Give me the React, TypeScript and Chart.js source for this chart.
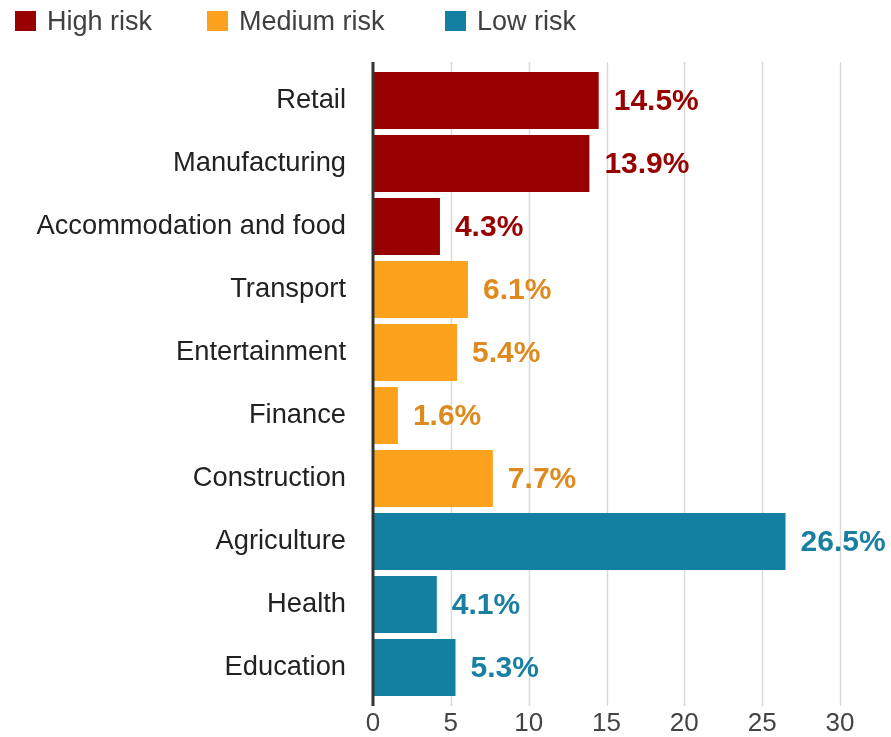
import React, { useEffect, useRef } from "react";
import { Chart, registerables } from "chart.js";

Chart.register(...registerables);

const categories = [
  "Retail",
  "Manufacturing",
  "Accommodation and food",
  "Transport",
  "Entertainment",
  "Finance",
  "Construction",
  "Agriculture",
  "Health",
  "Education",
];
const values = [14.5, 13.9, 4.3, 6.1, 5.4, 1.6, 7.7, 26.5, 4.1, 5.3];
const riskGroup = [
  "High risk",
  "High risk",
  "High risk",
  "Medium risk",
  "Medium risk",
  "Medium risk",
  "Medium risk",
  "Low risk",
  "Low risk",
  "Low risk",
];
const legendLabels = ["High risk", "Medium risk", "Low risk"];
const barColors: Record<string, string> = {
  "High risk": "#990000",
  "Medium risk": "#FDA21C",
  "Low risk": "#1380A1",
};
const labelColors: Record<string, string> = {
  "High risk": "#990000",
  "Medium risk": "#DE8A1E",
  "Low risk": "#1A80A2",
};
const xTicks = [0, 5, 10, 15, 20, 25, 30];

const FONT = "'Liberation Sans', Arial, Helvetica, sans-serif";

const gridPlugin = {
  id: "customGrid",
  beforeDatasetsDraw(chart: any) {
    const ctx = chart.ctx;
    const xs = chart.scales.x;
    const top = chart.chartArea.top - 7;
    const bottom = chart.chartArea.bottom + 7;
    ctx.save();
    ctx.strokeStyle = "#d9d9d9";
    ctx.lineWidth = 1.5;
    xTicks.forEach((v) => {
      if (v === 0) return;
      const x = Math.round(xs.getPixelForValue(v)) + 0.5;
      ctx.beginPath();
      ctx.moveTo(x, top);
      ctx.lineTo(x, bottom);
      ctx.stroke();
    });
    ctx.restore();
  },
  afterDatasetsDraw(chart: any) {
    const ctx = chart.ctx;
    const xs = chart.scales.x;
    const top = chart.chartArea.top - 7;
    const bottom = chart.chartArea.bottom + 7;
    ctx.save();
    ctx.strokeStyle = "#333333";
    ctx.lineWidth = 3;
    const x0 = xs.getPixelForValue(0);
    ctx.beginPath();
    ctx.moveTo(x0, top);
    ctx.lineTo(x0, bottom);
    ctx.stroke();

    const meta = chart.getDatasetMeta(0);
    ctx.font = `bold 30px ${FONT}`;
    ctx.textBaseline = "middle";
    ctx.textAlign = "left";
    meta.data.forEach((el: any, i: number) => {
      ctx.fillStyle = labelColors[riskGroup[i]];
      ctx.fillText(values[i].toFixed(1) + "%", el.x + 15, el.y + 1);
    });
    ctx.restore();
  },
};

export default function App() {
  const canvasRef = useRef<HTMLCanvasElement | null>(null);

  useEffect(() => {
    if (!canvasRef.current) return;
    const chart = new Chart(canvasRef.current, {
      type: "bar",
      data: {
        labels: categories,
        datasets: [
          {
            data: values,
            backgroundColor: riskGroup.map((g) => barColors[g]),
            borderWidth: 0,
            barPercentage: 0.905,
            categoryPercentage: 1,
          },
        ],
      },
      options: {
        indexAxis: "y",
        responsive: false,
        animation: false,
        layout: {
          autoPadding: false,
          padding: { top: 69, right: 51, left: 0, bottom: 0 },
        },
        plugins: {
          legend: { display: false },
          tooltip: { enabled: false },
        },
        scales: {
          x: {
            min: 0,
            max: 30,
            afterBuildTicks: (scale: any) => {
              scale.ticks = xTicks.map((v) => ({ value: v }));
            },
            afterFit: (scale: any) => {
              scale.height = 38;
            },
            grid: { display: false, drawTicks: false },
            border: { display: false },
            ticks: {
              font: { family: FONT, size: 26 },
              color: "#444444",
              padding: 9,
            },
          },
          y: {
            afterFit: (scale: any) => {
              scale.width = 373;
            },
            grid: { display: false, drawTicks: false },
            border: { display: false },
            ticks: {
              font: { family: FONT, size: 27.3, lineHeight: 0.4 },
              color: "#222222",
              padding: 27,
            },
          },
        },
      },
      plugins: [gridPlugin],
    });
    return () => chart.destroy();
  }, []);

  const legendPos = [15, 207, 445];

  return (
    <div
      style={{
        position: "absolute",
        left: 0,
        top: 0,
        width: 891,
        height: 737,
        background: "#ffffff",
      }}
    >
      <canvas
        ref={canvasRef}
        width={891}
        height={737}
        style={{ position: "absolute", left: 0, top: 0, width: 891, height: 737 }}
      />
      {legendLabels.map((l, i) => (
        <div
          key={l}
          style={{
            position: "absolute",
            left: legendPos[i],
            top: 4,
            height: 34,
            display: "flex",
            alignItems: "center",
            fontFamily: FONT,
            fontSize: 27,
            color: "#404040",
            whiteSpace: "nowrap",
          }}
        >
          <span
            style={{
              display: "inline-block",
              width: 21,
              height: 20,
              background: barColors[l],
              marginRight: 11,
            }}
          />
          <span>{l}</span>
        </div>
      ))}
    </div>
  );
}
